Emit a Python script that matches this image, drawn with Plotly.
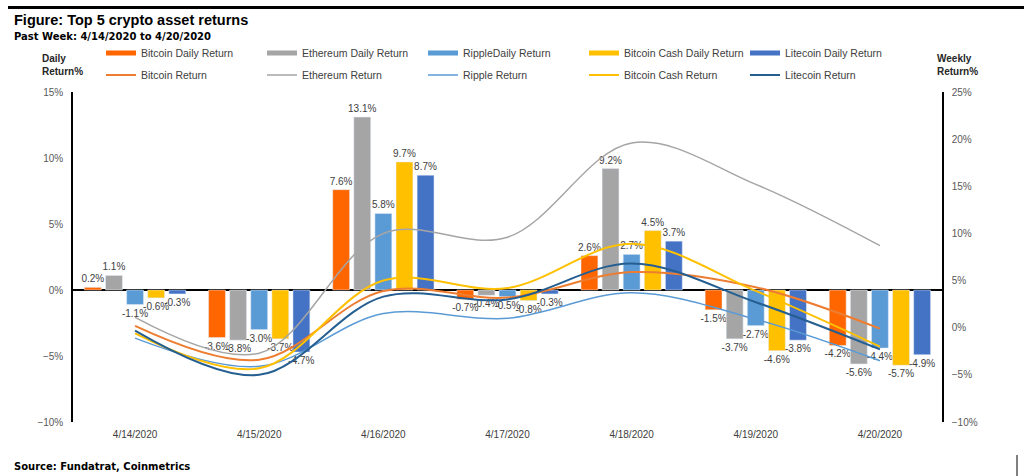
import plotly.graph_objects as go

# ---- data ----
dates = ["4/14/2020", "4/15/2020", "4/16/2020", "4/17/2020", "4/18/2020", "4/19/2020", "4/20/2020"]

btc_daily = [0.2, -3.6, 7.6, -0.7, 2.6, -1.5, -4.2]
eth_daily = [1.1, -3.8, 13.1, -0.4, 9.2, -3.7, -5.6]
xrp_daily = [-1.1, -3.0, 5.8, -0.5, 2.7, -2.7, -4.4]
bch_daily = [-0.6, -3.7, 9.7, -0.8, 4.5, -4.6, -5.7]
ltc_daily = [-0.3, -4.7, 8.7, -0.3, 3.7, -3.8, -4.9]

btc_week = [0.2, -3.4, 3.9, 3.2, 5.9, 4.3, -0.1]
eth_week = [1.1, -2.7, 10.0, 9.6, 19.6, 15.2, 8.7]
xrp_week = [-1.1, -4.1, 1.5, 1.0, 3.7, 0.9, -3.5]
bch_week = [-0.6, -4.3, 5.0, 4.2, 8.9, 3.9, -2.0]
ltc_week = [-0.3, -5.0, 3.3, 3.0, 6.8, 2.7, -2.3]

bar_names = ["Bitcoin Daily Return", "Ethereum Daily Return", "RippleDaily Return",
             "Bitcoin Cash Daily Return", "Litecoin Daily Return"]
line_names = ["Bitcoin Return", "Ethereum Return", "Ripple Return",
              "Bitcoin Cash Return", "Litecoin Return"]
bar_colors = ["#FF6600", "#A5A5A5", "#5B9BD5", "#FFC000", "#4472C4"]
line_colors = ["#ED7D31", "#A5A5A5", "#5B9BD5", "#FFC000", "#255E91"]
line_widths = [2, 1.5, 1.5, 2, 2]

daily = [btc_daily, eth_daily, xrp_daily, bch_daily, ltc_daily]
weekly = [btc_week, eth_week, xrp_week, bch_week, ltc_week]

FONT = "Arial, Liberation Sans, sans-serif"
WIDE = "DejaVu Sans, Arial, sans-serif"
TXT = "#404040"

# plot area geometry (px)
W, H = 1024, 476
L, R, T, B = 73, 82, 92, 54
PW, PH = W - L - R, H - T - B


def px(x):
    return (x - L) / PW


def py(y):
    return (H - B - y) / PH


fig = go.Figure()

for name, vals, c in zip(bar_names, daily, bar_colors):
    fig.add_trace(go.Bar(
        x=dates, y=vals, name=name, marker_color=c, showlegend=False,
        texttemplate="%{y:.1f}%", textposition="outside", cliponaxis=False,
        constraintext="none", textfont=dict(size=10, color=TXT, family=FONT),
        yaxis="y"))

# legend-only entries for bars (thick line symbols)
for name, c in zip(bar_names, bar_colors):
    fig.add_trace(go.Scatter(
        x=[None], y=[None], mode="lines", name=name,
        line=dict(color=c, width=5), legend="legend", showlegend=True))

for name, vals, c, w in zip(line_names, weekly, line_colors, line_widths):
    fig.add_trace(go.Scatter(
        x=dates, y=vals, name=name, mode="lines",
        line=dict(color=c, width=w, shape="spline", smoothing=1),
        yaxis="y2", legend="legend2", cliponaxis=False))

legend_common = dict(
    orientation="h", xanchor="left", yanchor="middle",
    font=dict(size=10.5, color=TXT, family=FONT),
    bgcolor="rgba(0,0,0,0)", entrywidth=116, entrywidthmode="pixels",
    itemclick=False, itemdoubleclick=False)

fig.update_layout(
    width=W, height=H,
    margin=dict(l=L, r=R, t=T, b=B, pad=0),
    paper_bgcolor="white", plot_bgcolor="white",
    font=dict(family=FONT, size=10, color=TXT),
    barmode="group", bargap=0.15, bargroupgap=0.2,
    showlegend=True,
    legend=dict(x=px(101), y=py(53), **legend_common),
    legend2=dict(x=px(101), y=py(75), **legend_common),
    xaxis=dict(type="category", showline=False, showgrid=False, ticks="",
               tickfont=dict(size=10, color=TXT, family=FONT), zeroline=False,
               ticklabelstandoff=5),
    yaxis=dict(range=[-10, 15], dtick=5, ticksuffix="%", showgrid=False,
               showline=True, linecolor="black", linewidth=1.5,
               zeroline=True, zerolinecolor="black", zerolinewidth=1.5,
               ticks="", tickfont=dict(size=10, color="#595959", family=FONT),
               ticklabelstandoff=6),
    yaxis2=dict(range=[-10, 25], dtick=5, ticksuffix="%", showgrid=False,
                overlaying="y", side="right",
                showline=True, linecolor="black", linewidth=1.5,
                zeroline=False, ticks="",
                tickfont=dict(size=10, color="#595959", family=FONT),
                ticklabelstandoff=6),
)

annotations = [
    dict(text="<b>Figure: Top 5 crypto asset returns</b>", x=px(12), y=py(20),
         xanchor="left", yanchor="middle", font=dict(size=14.5, color="black", family=FONT)),
    dict(text="<b>Past Week: 4/14/2020 to 4/20/2020</b>", x=px(12), y=py(37),
         xanchor="left", yanchor="middle", font=dict(size=10, color="black", family=WIDE)),
    dict(text="<b>Source: Fundatrat, Coinmetrics</b>", x=px(12), y=py(466),
         xanchor="left", yanchor="middle", font=dict(size=10, color="black", family=WIDE)),
    dict(text="<b>Daily<br>Return%</b>", x=px(40), y=py(65), align="left",
         xanchor="left", yanchor="middle", font=dict(size=10, color="#262626", family=FONT)),
    dict(text="<b>Weekly<br>Return%</b>", x=px(935), y=py(65), align="left",
         xanchor="left", yanchor="middle", font=dict(size=10, color="#262626", family=FONT)),
]
for a in annotations:
    a.update(xref="paper", yref="paper", showarrow=False)
fig.update_layout(annotations=annotations)

fig.update_layout(shapes=[
    dict(type="line", xref="paper", yref="paper", x0=px(8), x1=px(1024),
         y0=py(7.5), y1=py(7.5), line=dict(color="black", width=3)),
    dict(type="line", xref="paper", yref="paper", x0=px(1017), x1=px(1017),
         y0=py(455), y1=py(476), line=dict(color="black", width=1)),
])

fig.write_html("out.html")
